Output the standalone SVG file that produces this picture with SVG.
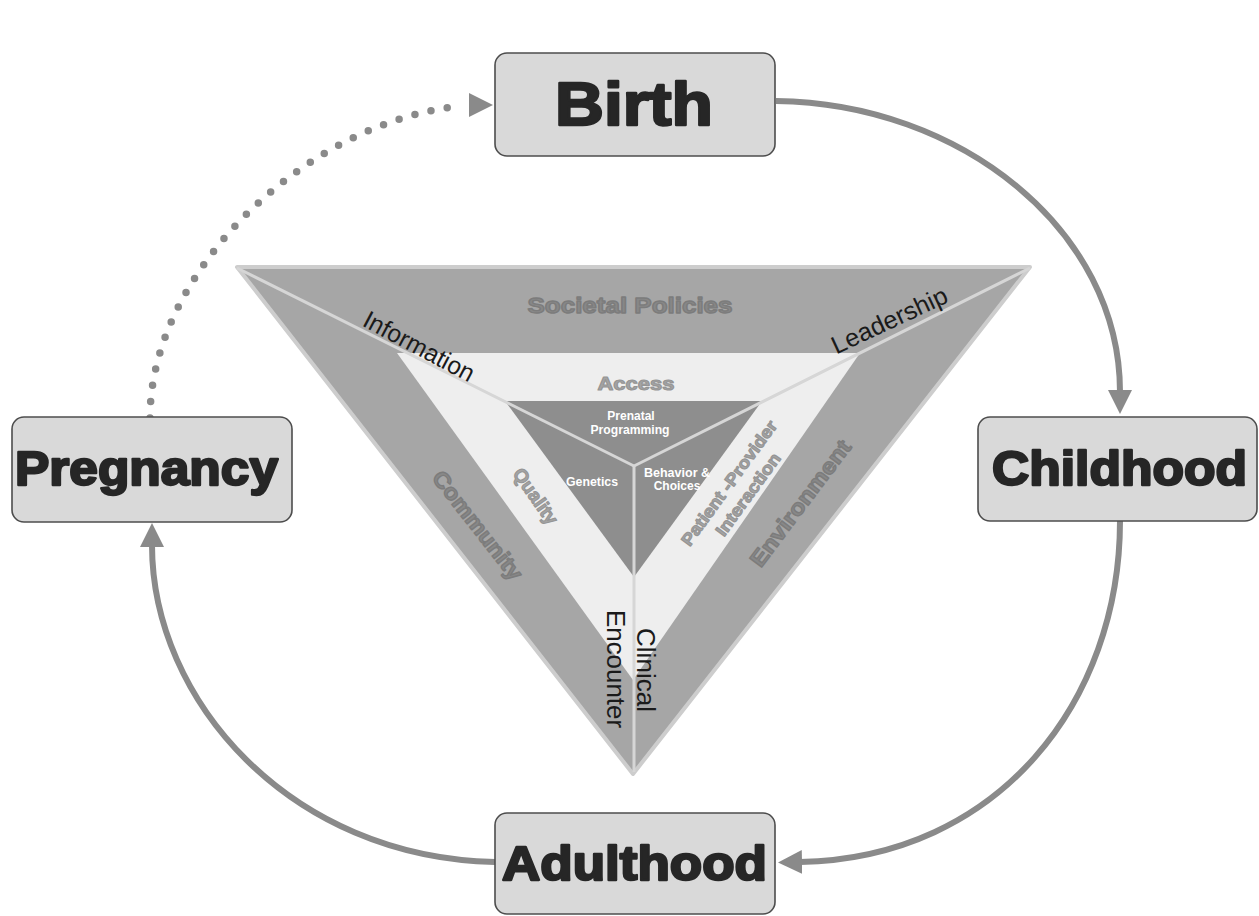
<svg xmlns="http://www.w3.org/2000/svg" width="1259" height="916" viewBox="0 0 1259 916">
<style>
.node rect{fill:#d9d9d9;stroke:#4d4d4d;stroke-width:1.6}
.node text{font-family:"Liberation Sans",Arial,sans-serif;font-weight:bold;fill:#262626;stroke:#262626;stroke-width:2.4;stroke-linejoin:round;text-anchor:middle}
.conn{fill:none;stroke:#8a8a8a;stroke-width:6}
.dots{fill:none;stroke:#8a8a8a;stroke-width:7.5;stroke-linecap:round;stroke-dasharray:0 16.5}
.band{font-family:"Liberation Sans",Arial,sans-serif;font-weight:bold;text-anchor:middle;stroke-linejoin:round}
.dk{fill:#888888;stroke:#7c7c7c;stroke-width:1.4}
.lt{fill:#a4a4a4;stroke:#959595;stroke-width:1.1}
.core{font-family:"Liberation Sans",Arial,sans-serif;font-weight:bold;font-size:12px;fill:#ffffff;text-anchor:middle}
.lbl{font-family:"Liberation Sans",Arial,sans-serif;font-size:25px;fill:#1a1a1a;text-anchor:middle}
.sep{stroke:#d6d6d6;stroke-width:3;fill:none}
</style>
<defs>
<marker id="ah" markerUnits="userSpaceOnUse" markerWidth="26" markerHeight="26" refX="2" refY="12" orient="auto">
<path d="M0,0 L24,12 L0,24 Z" fill="#8a8a8a"/>
</marker>
</defs>
<rect width="1259" height="916" fill="#ffffff"/>

<g id="triangle">
<polygon points="237,267 1030,267 633,774" fill="#a6a6a6" stroke="#cdcdcd" stroke-width="4" stroke-linejoin="round"/>
<polygon points="397,353 860,353 633,680" fill="#eeeeee"/>
<polygon points="505,401 762,401 634,577" fill="#8e8e8e"/>
<line class="sep" x1="237" y1="268" x2="634" y2="466"/>
<line class="sep" x1="1030" y1="268" x2="634" y2="466"/>
<line class="sep" x1="634" y1="466" x2="634" y2="772"/>
<text class="band dk" x="630" y="313" font-size="22" textLength="205" lengthAdjust="spacingAndGlyphs">Societal Policies</text>
<text class="band lt" x="636" y="390" font-size="19" textLength="77" lengthAdjust="spacingAndGlyphs">Access</text>
<text class="band dk" transform="translate(478,525) rotate(52)" y="8" font-size="22" textLength="132" lengthAdjust="spacingAndGlyphs">Community</text>
<text class="band lt" transform="translate(536,496) rotate(55)" y="7" font-size="19" textLength="64" lengthAdjust="spacingAndGlyphs">Quality</text>
<text class="band dk" transform="translate(800,503) rotate(-53)" y="8" font-size="22" textLength="152" lengthAdjust="spacingAndGlyphs">Environment</text>
<g transform="translate(729,483) rotate(-54)">
<text class="band lt" y="6" font-size="17" textLength="150" lengthAdjust="spacingAndGlyphs">Patient -Provider</text>
<text class="band lt" x="2" y="28" font-size="17" textLength="98" lengthAdjust="spacingAndGlyphs">Interaction</text>
</g>
<text class="core" x="631" y="420">Prenatal</text>
<text class="core" x="630" y="434" textLength="79" lengthAdjust="spacingAndGlyphs">Programming</text>
<text class="core" x="592" y="486" textLength="52" lengthAdjust="spacingAndGlyphs">Genetics</text>
<text class="core" x="677" y="477" textLength="66" lengthAdjust="spacingAndGlyphs">Behavior &amp;</text>
<text class="core" x="677" y="490">Choices</text>
<text class="lbl" transform="translate(415,354) rotate(28)" textLength="122" lengthAdjust="spacingAndGlyphs">Information</text>
<text class="lbl" transform="translate(893,328) rotate(-25)" textLength="125" lengthAdjust="spacingAndGlyphs">Leadership</text>
<text class="lbl" transform="translate(637,670) rotate(90)" font-size="26" textLength="84" lengthAdjust="spacingAndGlyphs">Clinical</text>
<text class="lbl" transform="translate(607,669) rotate(90)" font-size="26" textLength="118" lengthAdjust="spacingAndGlyphs">Encounter</text>
</g>

<g id="connectors">
<path class="conn" d="M776,101 C960,103 1120,230 1120,392" marker-end="url(#ah)"/>
<path class="conn" d="M1120,521 C1120,700 1000,858 800,862" marker-end="url(#ah)"/>
<path class="conn" d="M495,862 C290,858 152,700 152,545" marker-end="url(#ah)"/>
<path class="dots" d="M150,418 C150,270 310,120 462,106"/>
<polygon points="469,93 493,105 469,117" fill="#8a8a8a"/>
</g>

<g id="birth" class="node">
<rect x="495" y="53" width="280" height="103" rx="12"/>
<text x="634" y="125" font-size="62" textLength="158" lengthAdjust="spacingAndGlyphs">Birth</text>
</g>
<g id="childhood" class="node">
<rect x="978" y="417" width="279" height="104" rx="12"/>
<text x="1119.5" y="485" font-size="49" textLength="255" lengthAdjust="spacingAndGlyphs">Childhood</text>
</g>
<g id="adulthood" class="node">
<rect x="495" y="813" width="280" height="101" rx="12"/>
<text x="634.5" y="880" font-size="49" textLength="265" lengthAdjust="spacingAndGlyphs">Adulthood</text>
</g>
<g id="pregnancy" class="node">
<rect x="12" y="417" width="280" height="105" rx="12"/>
<text x="146.5" y="485" font-size="49" textLength="263" lengthAdjust="spacingAndGlyphs">Pregnancy</text>
</g>
</svg>
